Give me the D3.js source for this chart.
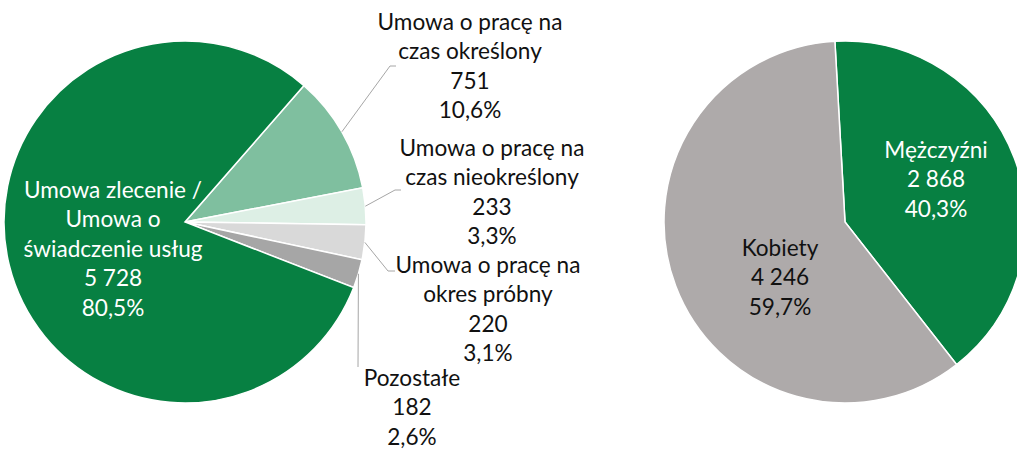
<!DOCTYPE html>
<html>
<head>
<meta charset="utf-8">
<script src="https://cdn.jsdelivr.net/npm/d3@7"></script>
<style>
  body { margin: 0; background: #fff; }
  text { font-family: Lato, "Open Sans", sans-serif; font-size: 22.6px; }
</style>
</head>
<body>
<div id="chart"></div>
<script>
// left pie: type of contract
var contractNames = [
  ["Umowa o pracę na", "czas określony"],
  ["Umowa o pracę na", "czas nieokreślony"],
  ["Umowa o pracę na", "okres próbny"],
  ["Pozostałe"],
  ["Umowa zlecenie /", "Umowa o", "świadczenie usług"]
];
var contractValues = [751, 233, 220, 182, 5728];
var contractValueLabels = ["751", "233", "220", "182", "5 728"];
var contractPct = ["10,6%", "3,3%", "3,1%", "2,6%", "80,5%"];
var contractColors = ["#7fbf9f", "#ddefe5", "#d9d9d9", "#a6a6a6", "#078042"];

// right pie: gender
var genderNames = [["Mężczyźni"], ["Kobiety"]];
var genderValues = [2868, 4246];
var genderValueLabels = ["2 868", "4 246"];
var genderPct = ["40,3%", "59,7%"];
var genderColors = ["#078042", "#aeaaaa"];

var width = 1017,
    height = 450,
    radius = 181,
    lineH = 29.5;

var svg = d3.select("#chart").append("svg")
  .attr("width", width).attr("height", height);

// label layout (first line centre) and leader line bends
var contractLabelPos = [
  {x: 470, y: 22, col: "#111", lead: [[390, 66], [396, 66]]},
  {x: 492, y: 148, col: "#111", lead: [[395, 190], [401, 190]]},
  {x: 488, y: 265, col: "#111", lead: [[388, 271], [395, 271]]},
  {x: 412, y: 378, col: "#111", lead: [[358, 367]]},
  {x: 113, y: 190, col: "#fff", lead: null}
];
var genderLabelPos = [
  {x: 936, y: 150, col: "#fff", lead: null},
  {x: 780, y: 248, col: "#111", lead: null}
];

function drawPie(cx, cy, startDeg, names, values, valueLabels, pct, colors, pos) {
  var a0 = startDeg * Math.PI / 180;
  var pie = d3.pie().sort(null).startAngle(a0).endAngle(a0 + 2 * Math.PI);
  var arc = d3.arc().innerRadius(0).outerRadius(radius);
  var arcs = pie(values);

  var g = svg.append("g").attr("transform", "translate(" + cx + "," + cy + ")");
  g.selectAll("path")
    .data(arcs)
    .enter().append("path")
    .attr("d", arc)
    .attr("fill", function(d, i) { return colors[i]; })
    .attr("stroke", "#fff")
    .attr("stroke-width", 1.5);

  // leader lines
  arcs.forEach(function(d, i) {
    var p = pos[i];
    if (!p.lead) return;
    var mid = (d.startAngle + d.endAngle) / 2;
    var pts = [[cx + radius * Math.sin(mid), cy - radius * Math.cos(mid)]].concat(p.lead);
    svg.append("path")
      .attr("d", d3.line()(pts))
      .attr("fill", "none")
      .attr("stroke", "#a6a6a6")
      .attr("stroke-width", 1);
  });

  // labels
  arcs.forEach(function(d, i) {
    var p = pos[i];
    var lines = names[i].concat([valueLabels[i], pct[i]]);
    var t = svg.append("text")
      .attr("text-anchor", "middle")
      .attr("fill", p.col);
    lines.forEach(function(s, k) {
      t.append("tspan")
        .attr("x", p.x)
        .attr("y", p.y + k * lineH)
        .attr("dy", "0.35em")
        .text(s);
    });
  });
}

drawPie(185, 222, 41.1, contractNames, contractValues, contractValueLabels, contractPct, contractColors, contractLabelPos);
drawPie(845, 222, -3.2, genderNames, genderValues, genderValueLabels, genderPct, genderColors, genderLabelPos);
</script>
</body>
</html>
